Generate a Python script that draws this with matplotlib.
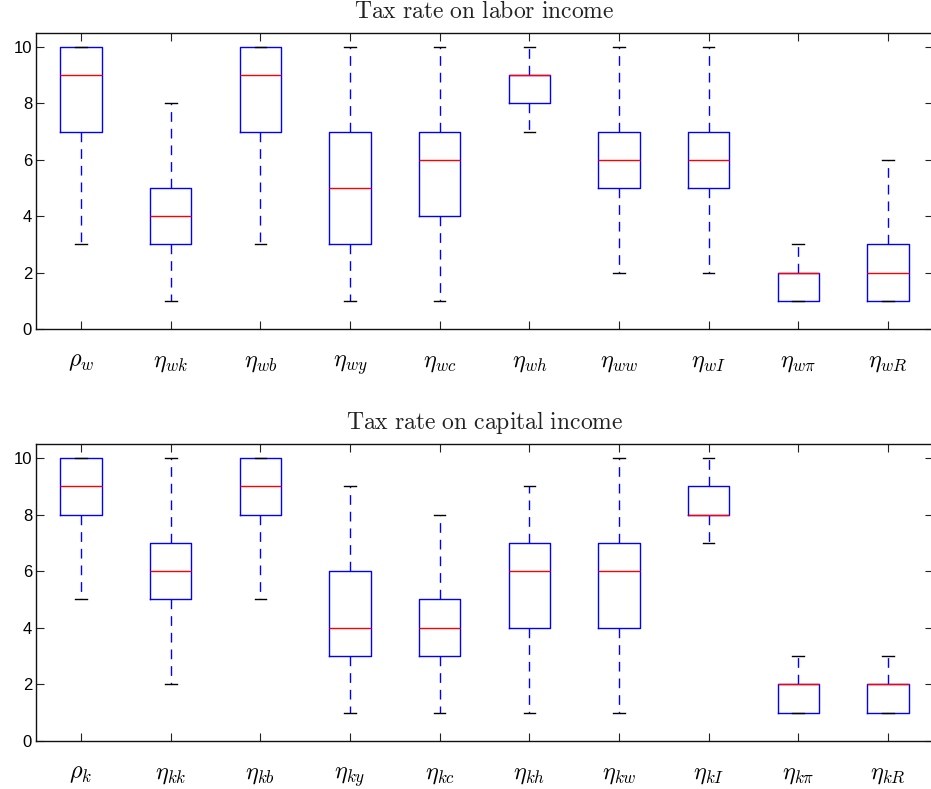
import matplotlib
matplotlib.use("Agg")
import matplotlib.pyplot as plt

plt.rcParams.update({
    "font.family": "Liberation Sans",
    "mathtext.fontset": "cm",
})

# ── Box statistics: (whisker low, q1, median, q3, whisker high) ──────────────
labor_labels = [r"$\rho_w$", r"$\eta_{wk}$", r"$\eta_{wb}$", r"$\eta_{wy}$", r"$\eta_{wc}$",
                r"$\eta_{wh}$", r"$\eta_{ww}$", r"$\eta_{wI}$", r"$\eta_{w\pi}$", r"$\eta_{wR}$"]
labor_lo  = [3, 1, 3, 1, 1, 7, 2, 2, 1, 1]
labor_q1  = [7, 3, 7, 3, 4, 8, 5, 5, 1, 1]
labor_med = [9, 4, 9, 5, 6, 9, 6, 6, 2, 2]
labor_q3  = [10, 5, 10, 7, 7, 9, 7, 7, 2, 3]
labor_hi  = [10, 8, 10, 10, 10, 10, 10, 10, 3, 6]

capital_labels = [r"$\rho_k$", r"$\eta_{kk}$", r"$\eta_{kb}$", r"$\eta_{ky}$", r"$\eta_{kc}$",
                  r"$\eta_{kh}$", r"$\eta_{kw}$", r"$\eta_{kI}$", r"$\eta_{k\pi}$", r"$\eta_{kR}$"]
capital_lo  = [5, 2, 5, 1, 1, 1, 1, 7, 1, 1]
capital_q1  = [8, 5, 8, 3, 3, 4, 4, 8, 1, 1]
capital_med = [9, 6, 9, 4, 4, 6, 6, 8, 2, 2]
capital_q3  = [10, 7, 10, 6, 5, 7, 7, 9, 2, 2]
capital_hi  = [10, 10, 10, 9, 8, 9, 10, 10, 3, 3]

W, H = 931, 789
fig = plt.figure(figsize=(W / 100, H / 100), dpi=100)
fig.patch.set_facecolor("white")


def panel(rect, title, labels, lo, q1, med, q3, hi):
    ax = fig.add_axes(rect)
    stats = [dict(whislo=a, q1=b, med=c, q3=d, whishi=e, fliers=[])
             for a, b, c, d, e in zip(lo, q1, med, q3, hi)]
    ax.bxp(stats, positions=range(1, len(stats) + 1), widths=0.46,
           capwidths=0.13, showfliers=False,
           boxprops=dict(color="#0000ff", lw=1.0),
           medianprops=dict(color="#ff0000", lw=1.0),
           whiskerprops=dict(color="#0000ff", lw=1.0, linestyle=(0, (7, 5))),
           capprops=dict(color="black", lw=1.0))
    ax.set_xlim(0.5, len(stats) + 0.5)
    ax.set_ylim(0, 10.5)
    ax.set_yticks([0, 2, 4, 6, 8, 10])
    ax.set_xticks(range(1, len(stats) + 1))
    # baseline-aligned math labels so descenders don't shift them
    ax.set_xticklabels(labels, fontsize=17.5, va="baseline")
    ax.tick_params(axis="both", direction="in", length=5.5, width=0.8,
                   top=True, right=True, color="#222")
    ax.tick_params(axis="x", pad=27)
    ax.tick_params(axis="y", labelsize=12, pad=3)
    for s in ax.spines.values():
        s.set_linewidth(1.0)
        s.set_color("#111")
    ax.set_title(r"$\mathrm{" + title.replace(" ", r"\ ") + "}$", fontsize=17,
                 pad=11, color="#222")
    return ax


left = 36.2 / W
width = 896.6 / W
panel([left, 1 - 329 / H, width, 296.1 / H], "Tax rate on labor income",
      labor_labels, labor_lo, labor_q1, labor_med, labor_q3, labor_hi)
panel([left, 1 - 741 / H, width, 297.2 / H], "Tax rate on capital income",
      capital_labels, capital_lo, capital_q1, capital_med, capital_q3, capital_hi)

fig.savefig("out.png", dpi=100, facecolor="white")
